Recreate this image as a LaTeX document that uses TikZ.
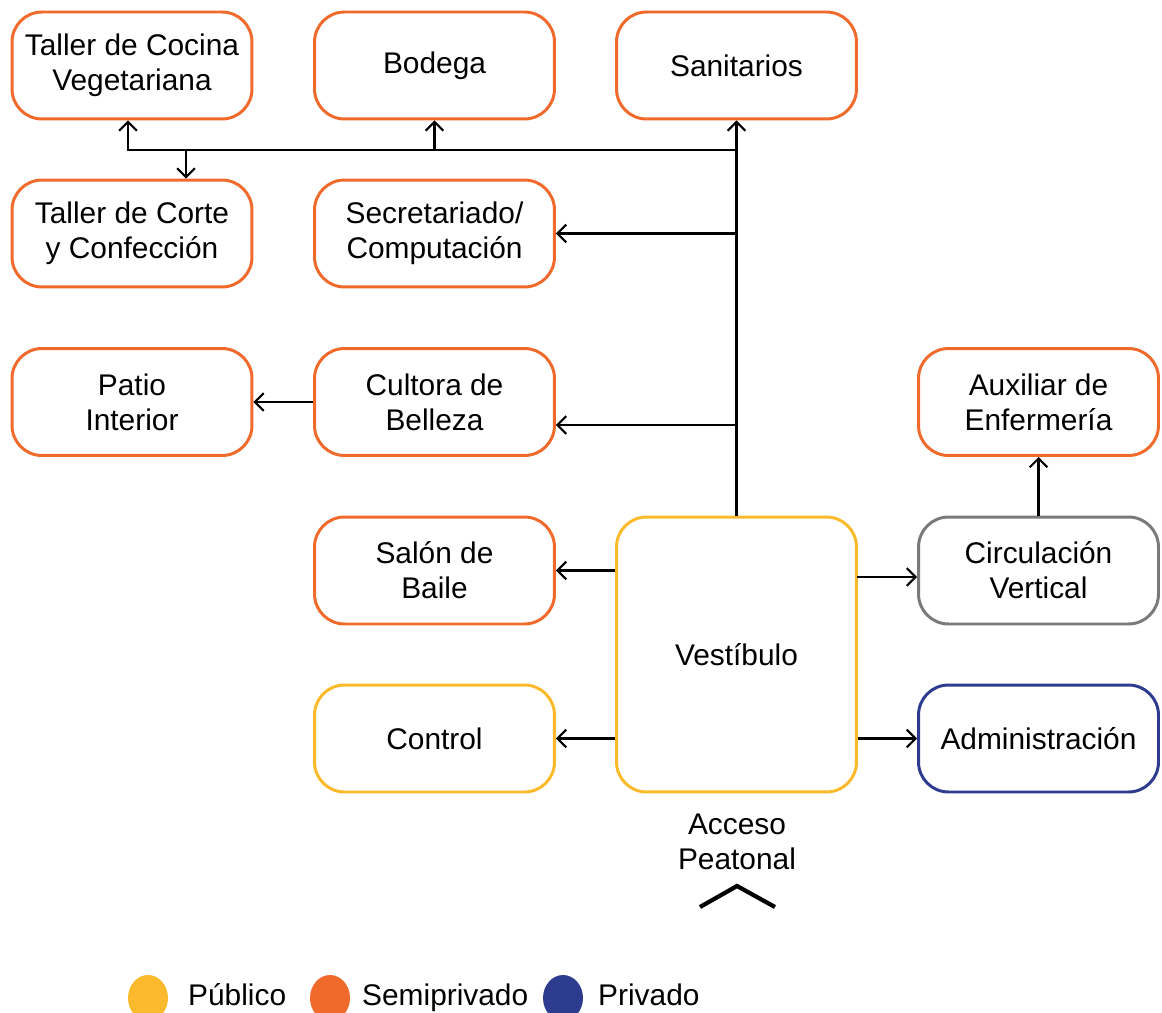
\documentclass[tikz,border=0pt]{standalone}
\usepackage{fontspec}
\setmainfont{Liberation Sans}
\usetikzlibrary{arrows.meta}
\definecolor{publico}{HTML}{FBBA2B}
\definecolor{semipriv}{HTML}{F06A2C}
\definecolor{privado}{HTML}{2E3C8F}
\definecolor{circgris}{HTML}{7A7A7A}
\tikzset{
  espacio/.style={draw=#1, line width=1.7pt, rounded corners=0.6cm,
    minimum width=4.8cm, minimum height=2.14cm, align=center,
    font=\fontsize{17}{20}\selectfont},
  flecha/.style={-{Straight Barb[length=5pt,width=10pt]}, line width=1.2pt},
  rotulo/.style={align=center, font=\fontsize{17}{20}\selectfont},
}
\begin{document}
\begin{tikzpicture}[x=0.02cm,y=-0.02cm]
\useasboundingbox (0,0) rectangle (1162,1013);
% espacios
\node[espacio=semipriv] (cocina) at (132,65.5) {Taller de Cocina\\Vegetariana};
\node[espacio=semipriv] (bodega) at (434.5,65.5) {Bodega};
\node[espacio=semipriv] (sanitarios) at (736.5,65.5) {Sanitarios};
\node[espacio=semipriv] (corte) at (132,233.5) {Taller de Corte\\y Confección};
\node[espacio=semipriv] (secretariado) at (434.5,233.5) {Secretariado/\\Computación};
\node[espacio=semipriv] (patio) at (132,402) {Patio\\Interior};
\node[espacio=semipriv] (cultora) at (434.5,402) {Cultora de\\Belleza};
\node[espacio=semipriv] (auxiliar) at (1038.5,402) {Auxiliar de\\Enfermería};
\node[espacio=semipriv] (salon) at (434.5,570.5) {Salón de\\Baile};
\node[espacio=circgris] (circulacion) at (1038.5,570.5) {Circulación\\Vertical};
\node[espacio=publico] (control) at (434.5,738.5) {Control};
\node[espacio=privado] (admin) at (1038.5,738.5) {Administración};
\node[espacio=publico, minimum height=5.5cm] (vestibulo) at (736.5,654.5) {Vestíbulo};
% acceso
\node[rotulo] (acceso) at (737,842) {Acceso\\Peatonal};
\draw[line width=2.4pt] (700,907) -- (737,886) -- (775,907);
% conexiones
\coordinate (ramal) at (736.5,150);
\coordinate (bajada) at (186,150);
\coordinate (belleza) at (736.5,425);
\coordinate (vertical) at (857,577);
\draw[flecha] (vestibulo.north) -- (sanitarios.south);
\draw[flecha] (ramal) -| ([xshift=-0.08cm]cocina.south);
\draw[flecha] (bajada) -- (bajada |- corte.north);
\draw[flecha] (bodega.south |- ramal) -- (bodega.south);
\draw[flecha] (secretariado.east -| ramal) -- (secretariado.east);
\draw[flecha] (belleza) -- (belleza -| cultora.east);
\draw[flecha] (cultora.west) -- (patio.east);
\draw[flecha] (vestibulo.west |- salon.east) -- (salon.east);
\draw[flecha] (vestibulo.west |- control.east) -- (control.east);
\draw[flecha] (vertical) -- (vertical -| circulacion.west);
\draw[flecha] (circulacion.north) -- (auxiliar.south);
\draw[flecha] (vestibulo.east |- admin.west) -- (admin.west);
% leyenda
\fill[publico] (148,998) ellipse (0.4cm and 0.46cm);
\fill[semipriv] (330,998) ellipse (0.4cm and 0.46cm);
\fill[privado] (563,998) ellipse (0.4cm and 0.46cm);
\node[rotulo, anchor=base west] (leyPub) at (182,1005) {Público};
\node[rotulo, anchor=base west] (leySemi) at (356,1005) {Semiprivado};
\node[rotulo, anchor=base west] (leyPriv) at (592,1005) {Privado};
\end{tikzpicture}
\end{document}
